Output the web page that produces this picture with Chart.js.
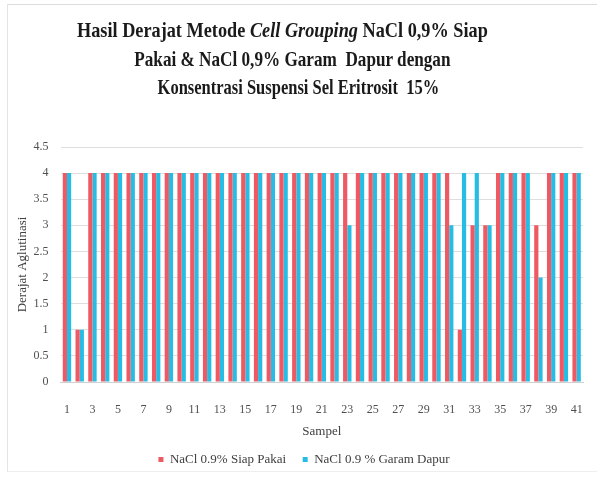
<!DOCTYPE html>
<html>
<head>
<meta charset="utf-8">
<script src="https://cdn.jsdelivr.net/npm/chart.js@4"></script>
<style>
  html, body { margin: 0; padding: 0; background: #fff; }
  #wrap { position: relative; width: 597px; height: 479px; }
  #frame { position: absolute; left: 7px; top: 4px; width: 590px; height: 468px;
           border-left: 1px solid #e4e4e4; border-top: 1px solid #dcdcdc; border-bottom: 1px solid #eeeeee;
           box-sizing: border-box; pointer-events: none; }
  #title { position: absolute; left: 0; top: 16px; width: 597px; text-align: center;
           font-family: "Liberation Serif", "Times New Roman", serif; font-weight: bold;
           font-size: 22px; line-height: 28.5px; color: #1a1a1a; }
  #title div { white-space: nowrap; transform-origin: 298px 0; }
  #title div.l1 { transform: translateX(-16px) scaleX(0.83); }
  #title div.l2 { transform: translateX(-6px) scaleX(0.78); }
  #title div.l3 { transform: scaleX(0.75); }
  canvas { position: absolute; left: 0; top: 0; }
</style>
</head>
<body>
<div id="wrap">
  <canvas id="c" width="597" height="479"></canvas>
  <div id="title">
    <div class="l1">Hasil Derajat Metode <i>Cell Grouping</i> NaCl 0,9% Siap</div>
    <div class="l2">Pakai &amp; NaCl 0,9% Garam&nbsp; Dapur dengan</div>
    <div class="l3">Konsentrasi Suspensi Sel Eritrosit&nbsp; 15%</div>
  </div>
  <div id="frame"></div>
</div>
<script>
// Sample numbers 1..41
const samples = ["1","2","3","4","5","6","7","8","9","10","11","12","13","14","15","16","17","18","19","20",
                 "21","22","23","24","25","26","27","28","29","30","31","32","33","34","35","36","37","38","39","40","41"];

// Agglutination grade per sample, ready-made NaCl 0.9%
const siapPakai = [4,1,4,4,4,4,4,4,4,4,4,4,4,4,4,4,4,4,4,4,
                   4,4,4,4,4,4,4,4,4,4,4,1,3,3,4,4,4,3,4,4,4];

// Agglutination grade per sample, kitchen-salt NaCl 0.9%
const garamDapur = [4,1,4,4,4,4,4,4,4,4,4,4,4,4,4,4,4,4,4,4,
                    4,4,3,4,4,4,4,4,4,4,3,4,4,3,4,4,4,2,4,4,4];

const yTicks = [0, 0.5, 1, 1.5, 2, 2.5, 3, 3.5, 4, 4.5];

const serif = "'Liberation Serif', 'Times New Roman', serif";

// nudge the legend block a little to the right of centre
const legendShift = {
  id: 'legendShift',
  afterLayout(chart) {
    const lg = chart.legend;
    if (lg) { lg.left += 5; lg.right += 5; }
  }
};

new Chart(document.getElementById('c'), {
  type: 'bar',
  data: {
    labels: samples,
    datasets: [
      { label: 'NaCl 0.9% Siap Pakai  ', data: siapPakai, backgroundColor: '#ee5a63',
        categoryPercentage: 0.66, barPercentage: 1.0 },
      { label: 'NaCl 0.9 % Garam Dapur', data: garamDapur, backgroundColor: '#26bde5',
        categoryPercentage: 0.66, barPercentage: 1.0 }
    ]
  },
  plugins: [legendShift],
  options: {
    responsive: false,
    animation: false,
    layout: { padding: { top: 147, left: 15, right: 14, bottom: 3 } },
    plugins: {
      title: { display: false },
      tooltip: { enabled: false },
      legend: {
        position: 'bottom',
        labels: {
          boxWidth: 5, boxHeight: 5, padding: 10,
          font: { family: serif, size: 13 }, color: '#404040'
        }
      }
    },
    scales: {
      x: {
        grid: { display: false },
        border: { color: '#d0d0d0' },
        ticks: {
          autoSkip: false, maxRotation: 0, padding: 13,
          font: { family: serif, size: 12 }, color: '#505050',
          callback: function (v, i) { return i % 2 === 0 ? samples[i] : ''; }
        },
        title: { display: true, text: 'Sampel', font: { family: serif, size: 13 }, color: '#404040', padding: { top: -7, bottom: 4 } }
      },
      y: {
        min: 0, max: 4.5,
        afterBuildTicks: function (axis) { axis.ticks = yTicks.map(v => ({ value: v })); },
        grid: { color: '#dedede', drawTicks: false },
        border: { display: false },
        ticks: {
          padding: 12,
          font: { family: serif, size: 12 }, color: '#505050',
          callback: v => String(v)
        },
        title: { display: true, text: 'Derajat Aglutinasi', font: { family: serif, size: 13 }, color: '#404040', padding: { top: 0, bottom: -9 } }
      }
    }
  }
});
</script>
</body>
</html>
